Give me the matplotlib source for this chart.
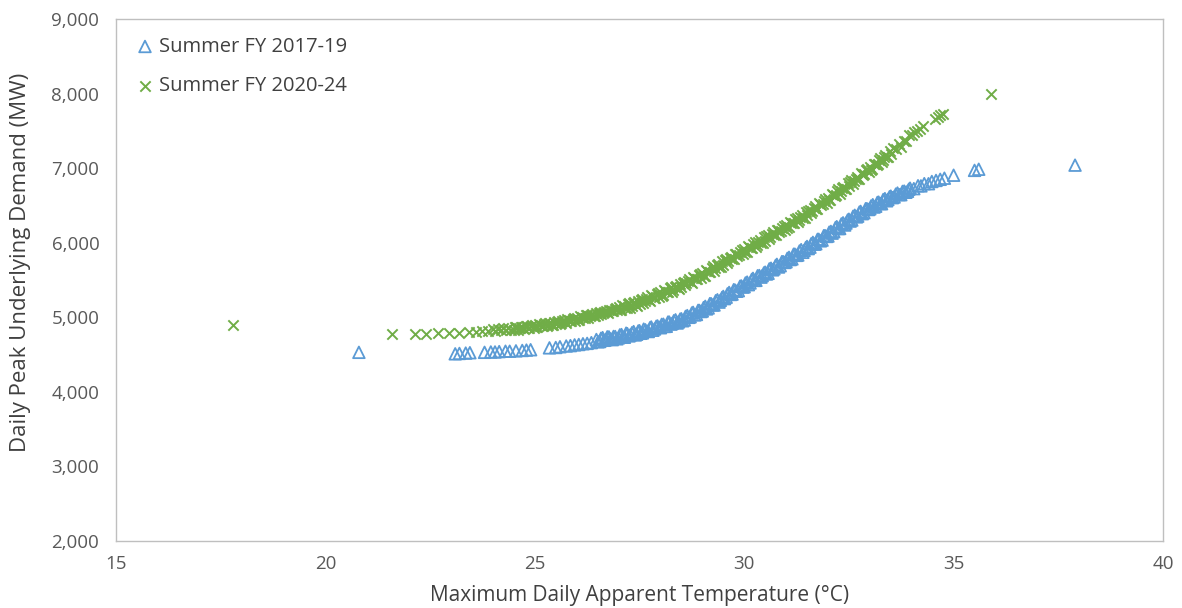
import matplotlib
matplotlib.use("Agg")
import matplotlib.pyplot as plt

# ---------------- data ----------------
series_names = ["Summer FY 2017-19", "Summer FY 2020-24"]

temp_1719 = [20.80,
             23.10, 23.20, 23.35, 23.45,
             23.80, 23.95, 24.05, 24.15, 24.30, 24.40, 24.55, 24.70, 24.80, 24.90,
             25.35, 25.50, 25.60, 25.75, 25.85, 25.95, 26.05, 26.15, 26.25, 26.35,
             26.47, 26.55, 26.62, 26.70, 26.77, 26.85, 26.92,
             27.00, 27.07, 27.14, 27.21, 27.28, 27.36, 27.43,
             27.50, 27.57, 27.64, 27.71, 27.78, 27.86, 27.93,
             28.00, 28.07, 28.14, 28.21, 28.28, 28.36, 28.43,
             28.50, 28.57, 28.64, 28.71, 28.78, 28.86, 28.93,
             29.00, 29.07, 29.14, 29.21, 29.28, 29.36, 29.43,
             29.50, 29.57, 29.64, 29.71, 29.78, 29.86, 29.93,
             30.00, 30.07, 30.14, 30.21, 30.28, 30.36, 30.43,
             30.50, 30.57, 30.64, 30.71, 30.78, 30.86, 30.93,
             31.00, 31.07, 31.14, 31.21, 31.28, 31.36, 31.43,
             31.50, 31.57, 31.64, 31.71, 31.78, 31.86, 31.93,
             32.00, 32.07, 32.14, 32.21, 32.28, 32.36, 32.43,
             32.50, 32.57, 32.64, 32.71, 32.78, 32.86, 32.93,
             33.00, 33.07, 33.14, 33.21, 33.28, 33.36, 33.43,
             33.50, 33.58, 33.66, 33.74, 33.82, 33.90, 33.96,
             34.05, 34.15, 34.22, 34.30, 34.40, 34.48,
             34.58, 34.68, 34.78,
             35.00, 35.50, 35.60, 37.90,
             # second pass of days (interleaved)
             26.51, 26.58, 26.66, 26.73, 26.81, 26.88, 26.96,
             27.03, 27.10, 27.18, 27.25, 27.32, 27.40, 27.47,
             27.53, 27.60, 27.68, 27.75, 27.82, 27.90, 27.97,
             28.03, 28.10, 28.18, 28.25, 28.32, 28.40, 28.47,
             28.53, 28.60, 28.68, 28.75, 28.82, 28.90, 28.97,
             29.03, 29.10, 29.18, 29.25, 29.32, 29.40, 29.47,
             29.53, 29.60, 29.68, 29.75, 29.82, 29.90, 29.97,
             30.03, 30.10, 30.18, 30.25, 30.32, 30.40, 30.47,
             30.53, 30.60, 30.68, 30.75, 30.82, 30.90, 30.97,
             31.03, 31.10, 31.18, 31.25, 31.32, 31.40, 31.47,
             31.53, 31.60, 31.68, 31.75, 31.82, 31.90, 31.97,
             32.03, 32.10, 32.18, 32.25, 32.32, 32.40, 32.47,
             32.53, 32.60, 32.68, 32.75, 32.82, 32.90, 32.97,
             33.03, 33.10, 33.18, 33.25, 33.32, 33.40, 33.47,
             33.54, 33.62, 33.70, 33.78, 33.86, 33.93]
demand_1719 = [4530,
               4510, 4515, 4520, 4525,
               4530, 4535, 4535, 4540, 4545, 4545, 4550, 4555, 4560, 4565,
               4590, 4595, 4605, 4615, 4620, 4630, 4635, 4645, 4650, 4660,
               4702, 4675, 4727, 4700, 4737, 4700, 4742,
               4725, 4768, 4732, 4780, 4764, 4808, 4772,
               4820, 4791, 4832, 4809, 4870, 4843, 4884,
               4860, 4907, 4879, 4936, 4918, 4966, 4938,
               4980, 4964, 5023, 5007, 5066, 5038, 5092,
               5085, 5147, 5125, 5182, 5165, 5235, 5228,
               5280, 5269, 5333, 5311, 5365, 5357, 5421,
               5410, 5472, 5460, 5522, 5495, 5560, 5558,
               5605, 5589, 5658, 5651, 5710, 5692, 5746,
               5745, 5804, 5783, 5846, 5835, 5907, 5896,
               5950, 5940, 6005, 5986, 6046, 6035, 6095,
               6090, 6152, 6148, 6215, 6191, 6267, 6263,
               6315, 6304, 6368, 6356, 6420, 6402, 6456,
               6455, 6510, 6489, 6544, 6523, 6591, 6580,
               6625, 6613, 6666, 6644, 6692, 6690, 6731,
               6725, 6764, 6762, 6792, 6791, 6821,
               6835, 6850, 6865,
               6905, 6970, 6985, 7040,
               4671, 4718, 4691, 4738, 4711, 4743, 4711,
               4764, 4737, 4787, 4750, 4793, 4763, 4816,
               4785, 4841, 4814, 4860, 4826, 4879, 4865,
               4905, 4877, 4936, 4908, 4954, 4923, 4975,
               4953, 5012, 4999, 5058, 5032, 5093, 5077,
               5130, 5112, 5183, 5165, 5222, 5203, 5265,
               5250, 5314, 5306, 5370, 5349, 5416, 5405,
               5460, 5437, 5508, 5495, 5557, 5538, 5595,
               5580, 5649, 5636, 5695, 5674, 5746, 5735,
               5790, 5774, 5846, 5830, 5889, 5871, 5935,
               5921, 5986, 5980, 6045, 6025, 6094, 6084,
               6141, 6128, 6203, 6190, 6252, 6237, 6304,
               6290, 6354, 6346, 6410, 6389, 6456, 6445,
               6493, 6478, 6540, 6525, 6579, 6562, 6616,
               6604, 6652, 6645, 6688, 6676, 6717]

temp_2024 = [17.80, 21.60,
             22.15, 22.40, 22.70, 22.95, 23.20, 23.42, 23.60, 23.75, 23.88,
             24.00, 24.06, 24.12, 24.19, 24.25, 24.31, 24.37, 24.44,
             24.50, 24.56, 24.62, 24.69, 24.75, 24.81, 24.87, 24.94,
             25.00, 25.06, 25.12, 25.19, 25.25, 25.31, 25.37, 25.44,
             25.50, 25.56, 25.62, 25.69, 25.75, 25.81, 25.87, 25.94,
             26.00, 26.06, 26.12, 26.19, 26.25, 26.31, 26.37, 26.44,
             26.50, 26.56, 26.62, 26.69, 26.75, 26.81, 26.87, 26.94,
             27.00, 27.06, 27.12, 27.19, 27.25, 27.31, 27.37, 27.44,
             27.50, 27.56, 27.62, 27.69, 27.75, 27.81, 27.87, 27.94,
             28.00, 28.06, 28.12, 28.19, 28.25, 28.31, 28.37, 28.44,
             28.50, 28.56, 28.62, 28.69, 28.75, 28.81, 28.87, 28.94,
             29.00, 29.06, 29.12, 29.19, 29.25, 29.31, 29.37, 29.44,
             29.50, 29.56, 29.62, 29.69, 29.75, 29.81, 29.87, 29.94,
             30.00, 30.06, 30.12, 30.19, 30.25, 30.31, 30.37, 30.44,
             30.50, 30.56, 30.62, 30.69, 30.75, 30.81, 30.87, 30.94,
             31.00, 31.06, 31.12, 31.19, 31.25, 31.31, 31.37, 31.44,
             31.50, 31.56, 31.62, 31.69, 31.75, 31.81, 31.87, 31.94,
             32.00, 32.06, 32.12, 32.19, 32.25, 32.31, 32.37, 32.44,
             32.50, 32.56, 32.62, 32.69, 32.75, 32.81, 32.87, 32.94,
             33.00, 33.06, 33.12, 33.19, 33.25, 33.31, 33.37, 33.44,
             33.50, 33.56, 33.62, 33.69, 33.75, 33.81, 33.87, 33.94,
             34.00, 34.06, 34.12, 34.20, 34.28,
             34.55, 34.62, 34.68, 34.75,
             35.90,
             # second pass of days (interleaved)
             24.53, 24.59, 24.66, 24.72, 24.78, 24.84, 24.91, 24.97,
             25.03, 25.09, 25.16, 25.22, 25.28, 25.34, 25.41, 25.47,
             25.53, 25.59, 25.66, 25.72, 25.78, 25.84, 25.91, 25.97,
             26.03, 26.09, 26.16, 26.22, 26.28, 26.34, 26.41, 26.47,
             26.53, 26.59, 26.66, 26.72, 26.78, 26.84, 26.91, 26.97,
             27.03, 27.09, 27.16, 27.22, 27.28, 27.34, 27.41, 27.47,
             27.53, 27.59, 27.66, 27.72, 27.78, 27.84, 27.91, 27.97,
             28.03, 28.09, 28.16, 28.22, 28.28, 28.34, 28.41, 28.47,
             28.53, 28.59, 28.66, 28.72, 28.78, 28.84, 28.91, 28.97,
             29.03, 29.09, 29.16, 29.22, 29.28, 29.34, 29.41, 29.47,
             29.53, 29.59, 29.66, 29.72, 29.78, 29.84, 29.91, 29.97,
             30.03, 30.09, 30.16, 30.22, 30.28, 30.34, 30.41, 30.47,
             30.53, 30.59, 30.66, 30.72, 30.78, 30.84, 30.91, 30.97,
             31.03, 31.09, 31.16, 31.22, 31.28, 31.34, 31.41, 31.47,
             31.53, 31.59, 31.66, 31.72, 31.78, 31.84, 31.91, 31.97,
             32.03, 32.09, 32.16, 32.22, 32.28, 32.34, 32.41, 32.47,
             32.53, 32.59, 32.66, 32.72, 32.78, 32.84, 32.91, 32.97,
             33.03, 33.09, 33.16, 33.22, 33.28, 33.34, 33.41, 33.47]
demand_2024 = [4890, 4780,
               4778, 4780, 4784, 4788, 4794, 4800, 4805, 4810, 4816,
               4845, 4813, 4840, 4828, 4860, 4833, 4855, 4828,
               4835, 4874, 4853, 4876, 4845, 4879, 4863, 4896,
               4895, 4865, 4895, 4885, 4920, 4895, 4920, 4895,
               4905, 4948, 4930, 4958, 4930, 4968, 4955, 4993,
               4995, 4968, 5001, 4994, 5033, 5011, 5039, 5017,
               5030, 5074, 5058, 5086, 5060, 5099, 5088, 5126,
               5140, 5096, 5146, 5127, 5193, 5153, 5199, 5154,
               5175, 5244, 5218, 5266, 5220, 5284, 5263, 5326,
               5335, 5295, 5350, 5335, 5405, 5370, 5420, 5380,
               5405, 5478, 5455, 5508, 5465, 5533, 5515, 5583,
               5595, 5560, 5620, 5610, 5685, 5655, 5710, 5675,
               5705, 5780, 5760, 5815, 5775, 5845, 5830, 5900,
               5915, 5880, 5940, 5930, 6005, 5975, 6030, 5995,
               6025, 6101, 6081, 6137, 6098, 6168, 6154, 6224,
               6240, 6207, 6269, 6261, 6338, 6309, 6366, 6333,
               6365, 6444, 6428, 6486, 6450, 6524, 6513, 6586,
               6605, 6575, 6640, 6635, 6715, 6690, 6750, 6720,
               6755, 6836, 6823, 6884, 6850, 6926, 6918, 6994,
               7015, 6988, 7055, 7053, 7135, 7113, 7175, 7148,
               7185, 7269, 7258, 7321, 7290, 7369, 7363, 7441,
               7445, 7480, 7500, 7530, 7560,
               7660, 7690, 7710, 7730,
               8000,
               4867, 4836, 4864, 4853, 4887, 4861, 4884, 4858,
               4867, 4908, 4887, 4913, 4882, 4918, 4902, 4938,
               4939, 4911, 4944, 4936, 4974, 4951, 4979, 4956,
               4969, 5012, 4995, 5024, 4996, 5035, 5023, 5061,
               5064, 5038, 5072, 5066, 5104, 5083, 5112, 5091,
               5095, 5161, 5131, 5177, 5128, 5189, 5164, 5225,
               5232, 5191, 5244, 5228, 5297, 5261, 5309, 5268,
               5292, 5363, 5337, 5388, 5342, 5408, 5387, 5453,
               5463, 5427, 5483, 5472, 5543, 5512, 5563, 5527,
               5555, 5630, 5610, 5665, 5625, 5695, 5680, 5750,
               5765, 5730, 5790, 5780, 5855, 5825, 5880, 5845,
               5875, 5950, 5930, 5985, 5945, 6015, 6000, 6070,
               6085, 6051, 6111, 6102, 6177, 6148, 6204, 6169,
               6201, 6278, 6260, 6317, 6278, 6350, 6337, 6409,
               6427, 6396, 6459, 6453, 6532, 6506, 6564, 6533,
               6567, 6648, 6632, 6693, 6657, 6733, 6722, 6798,
               6818, 6790, 6855, 6852, 6933, 6910, 6970, 6942,
               6979, 7062, 7048, 7111, 7078, 7156, 7148, 7226]

x_ticks = [15, 20, 25, 30, 35, 40]
y_ticks = [2000, 3000, 4000, 5000, 6000, 7000, 8000, 9000]
x_label = "Maximum Daily Apparent Temperature (°C)"
y_label = "Daily Peak Underlying Demand (MW)"

# ---------------- style ----------------
plt.rcParams['font.family'] = ['Open Sans', 'DejaVu Sans']
blue = "#5B9BD5"
green = "#70AD47"
tick_color = "#595959"
label_color = "#404040"
spine_color = "#BFBFBF"

fig = plt.figure(figsize=(11.82, 6.08), dpi=100)
ax = fig.add_axes([116 / 1182, 1 - 541 / 608, (1163 - 116) / 1182, (541 - 19) / 608])

ax.scatter(temp_1719, demand_1719, marker="^", s=70, facecolors="none",
           edgecolors=blue, linewidths=1.3, label=series_names[0], zorder=3)
ax.scatter(temp_2024, demand_2024, marker="x", s=55, color=green,
           linewidths=1.4, label=series_names[1], zorder=2)

ax.set_xlim(15, 40)
ax.set_ylim(2000, 9000)
ax.set_xticks(x_ticks)
ax.set_yticks(y_ticks)
ax.set_xticklabels([str(t) for t in x_ticks])
ax.set_yticklabels([f"{t:,}" for t in y_ticks])
ax.tick_params(axis="x", length=0, labelsize=13.5, colors=tick_color, pad=10)
ax.tick_params(axis="y", length=0, labelsize=13.5, colors=tick_color, pad=12)

for s in ax.spines.values():
    s.set_color(spine_color)
    s.set_linewidth(1.0)

ax.set_xlabel(x_label, fontsize=15, color=label_color, labelpad=9)
ax.set_ylabel(y_label, fontsize=16, color=label_color)
ax.yaxis.set_label_coords(-0.081, 0.534)

leg = ax.legend(loc="upper left", bbox_to_anchor=(0.020, 0.966), frameon=False,
                fontsize=14.5, labelspacing=0.95, handlelength=0.8,
                handletextpad=0.3, borderaxespad=0.0, borderpad=0.0)
for t in leg.get_texts():
    t.set_color(label_color)

fig.savefig("out.png", dpi=100, facecolor="white")
